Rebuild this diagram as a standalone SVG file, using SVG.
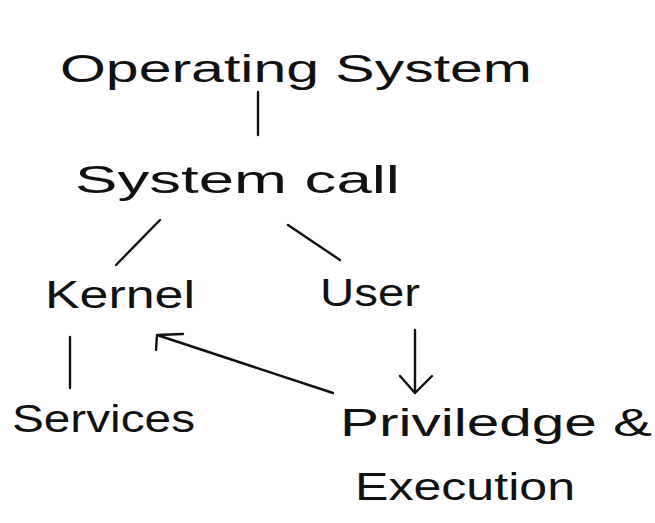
<svg xmlns="http://www.w3.org/2000/svg" width="655" height="523" viewBox="0 0 655 523">
<style>
text{font-family:"Liberation Sans",Arial,sans-serif;fill:#111;font-size:38px}
.c{stroke:#111;stroke-width:2.4;fill:none;stroke-linecap:round;stroke-linejoin:round}
</style>
<rect width="655" height="523" fill="#fff"/>
<g id="os"><text x="60" y="82" font-size="46" textLength="472" lengthAdjust="spacingAndGlyphs">Operating System</text></g>
<g id="syscall"><text x="75" y="193" font-size="42" textLength="325" lengthAdjust="spacingAndGlyphs">System call</text></g>
<g id="kernel"><text x="45" y="308" font-size="36" textLength="150" lengthAdjust="spacingAndGlyphs">Kernel</text></g>
<g id="user"><text x="320" y="306" font-size="36" textLength="100" lengthAdjust="spacingAndGlyphs">User</text></g>
<g id="services"><text x="12" y="432" font-size="38" textLength="183" lengthAdjust="spacingAndGlyphs">Services</text></g>
<g id="priv"><text x="340" y="436" font-size="40" textLength="312" lengthAdjust="spacingAndGlyphs">Priviledge &amp;</text>
<text x="355" y="500" font-size="38" textLength="220" lengthAdjust="spacingAndGlyphs">Execution</text></g>
<g id="connectors" class="c">
<path d="M258 92 L258 135"/>
<path d="M160 220 L116 265"/>
<path d="M288 225 L340 260"/>
<path d="M70 337 L70 388"/>
<path d="M333 393 L157 335 M183 334 L157 335 L156 350"/>
<path d="M415 330 L415 393 M400 376 L415 393 L432 376"/>
</g>
</svg>
